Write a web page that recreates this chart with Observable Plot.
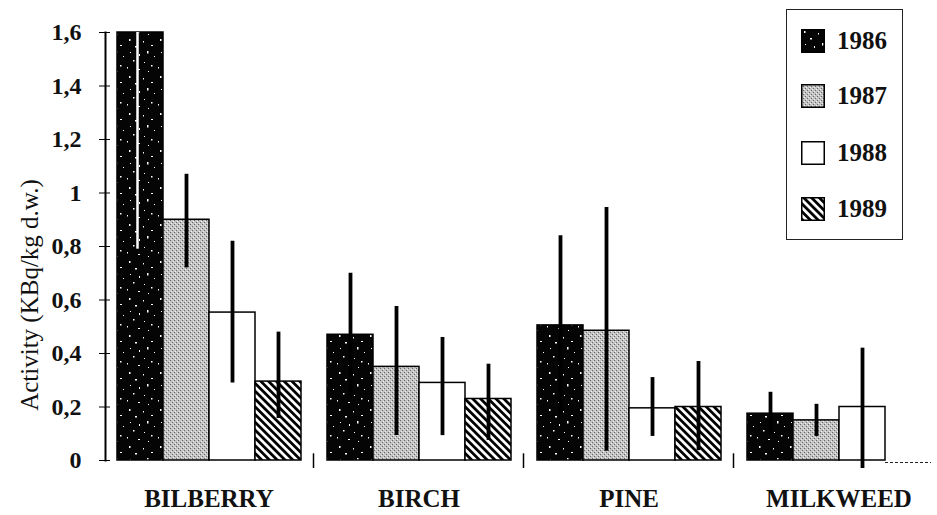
<!DOCTYPE html>
<html>
<head>
<meta charset="utf-8">
<script src="https://cdn.jsdelivr.net/npm/d3@7"></script>
<script src="https://cdn.jsdelivr.net/npm/@observablehq/plot@0.6"></script>
<style>
  html, body { margin: 0; padding: 0; background: #fff; overflow: hidden; }
  #wrap { position: relative; width: 937px; height: 515px; overflow: hidden; }
  #ytitle {
    position: absolute; left: 29px; top: 295px;
    transform: translate(-50%, -50%) rotate(-90deg);
    white-space: nowrap;
    font-family: "Liberation Serif", "DejaVu Serif", serif;
    font-size: 25px; color: #111; line-height: 1;
  }
  #legend {
    position: absolute; left: 786px; top: 9px; width: 117px; height: 231px;
    box-sizing: border-box; border: 1.2px solid #222; background: #fff;
  }
  .row { position: absolute; left: 14px; height: 24px; display: flex; align-items: center; }
  .row svg { display: block; }
  .row span {
    margin-left: 12px;
    font-family: "Liberation Serif", "DejaVu Serif", serif; font-weight: bold;
    font-size: 25px; color: #111; line-height: 24px;
  }
</style>
</head>
<body>
<svg width="0" height="0" style="position:absolute">
  <defs>
    <pattern id="p1986" patternUnits="userSpaceOnUse" width="31" height="37">
      <rect width="31" height="37" fill="#050505"/>
      <g fill="#fff">
        <rect x="3" y="2" width="1.5" height="2"/>
        <rect x="17" y="4" width="1" height="1.5"/>
        <rect x="25" y="8" width="2" height="1"/>
        <rect x="9" y="9" width="2" height="1.5"/>
        <rect x="21" y="14" width="1.5" height="2.5"/>
        <rect x="4" y="15" width="1" height="1"/>
        <rect x="13" y="17" width="1" height="2"/>
        <rect x="28" y="19" width="1" height="1"/>
        <rect x="7" y="23" width="1.5" height="1.5"/>
        <rect x="18" y="25" width="1" height="1"/>
        <rect x="25" y="28" width="1.5" height="1.5"/>
        <rect x="1" y="30" width="1" height="1.5"/>
        <rect x="12" y="32" width="2" height="1"/>
        <rect x="22" y="34" width="1" height="1"/>
      </g>
    </pattern>
    <pattern id="p1987" patternUnits="userSpaceOnUse" width="4" height="4">
      <rect width="4" height="4" fill="#c2c2c2"/>
      <rect x="0" y="0" width="1" height="1" fill="#666"/>
      <rect x="2" y="2" width="1" height="1" fill="#666"/>
      <rect x="1" y="3" width="1" height="1" fill="#f2f2f2"/>
      <rect x="3" y="1" width="1" height="1" fill="#f2f2f2"/>
    </pattern>
    <pattern id="p1988" patternUnits="userSpaceOnUse" width="4" height="4">
      <rect width="4" height="4" fill="#ffffff"/>
    </pattern>
    <pattern id="p1989" patternUnits="userSpaceOnUse" width="5.5" height="10" patternTransform="rotate(-45)">
      <rect width="5.5" height="10" fill="#ffffff"/>
      <rect x="0" y="0" width="2.8" height="10" fill="#000"/>
    </pattern>
  </defs>
</svg>
<div id="wrap">
  <div id="ytitle">Activity (KBq/kg d.w.)</div>
  <div id="legend"></div>
</div>
<script>
// ---- data ----
const categories = ["BILBERRY", "BIRCH", "PINE", "MILKWEED"];
const years = ["1986", "1987", "1988", "1989"];
const yTicks = [0, 0.2, 0.4, 0.6, 0.8, 1, 1.2, 1.4, 1.6];

const activity = {
  BILBERRY: [1.6, 0.9, 0.553, 0.295],
  BIRCH:    [0.47, 0.35, 0.29, 0.23],
  PINE:     [0.505, 0.485, 0.195, 0.2],
  MILKWEED: [0.175, 0.15, 0.2, null]
};
const errLow = {
  BILBERRY: [0.79, 0.72, 0.29, 0.157],
  BIRCH:    [0.24, 0.093, 0.093, 0.075],
  PINE:     [0.17, 0.035, 0.09, 0.037],
  MILKWEED: [0.095, 0.09, -0.03, null]
};
const errHigh = {
  BILBERRY: [1.6, 1.07, 0.82, 0.48],
  BIRCH:    [0.70, 0.576, 0.46, 0.36],
  PINE:     [0.84, 0.946, 0.31, 0.37],
  MILKWEED: [0.255, 0.21, 0.42, null]
};

// ---- build table ----
const yMax = 1.6;
const rows = [];
for (const cat of categories) {
  years.forEach((yr, i) => {
    rows.push({cat, year: yr, value: activity[cat][i], lo: errLow[cat][i], hi: errHigh[cat][i]});
  });
}
const present = rows.filter(d => d.value != null);
const missing = rows.filter(d => d.value == null);
const separators = categories.slice(0, -1).map(c => ({cat: c, year: years[years.length - 1]}));
const patterns = years.map(y => `url(#p${y})`);
const fmt = d => String(d).replace(".", ",");

const serif = '"Liberation Serif", "DejaVu Serif", serif';

const chart = Plot.plot({
  width: 937,
  height: 515,
  marginLeft: 103,
  marginRight: -7,
  marginTop: 32,
  marginBottom: 55,
  style: {background: "transparent", overflow: "visible"},
  fx: {domain: categories, paddingInner: 0.0142, paddingOuter: 0, label: null, axis: null},
  x: {domain: years, paddingInner: 0, paddingOuter: 0.213, axis: null},
  y: {domain: [0, yMax], axis: null},
  color: {domain: years, range: patterns},
  marks: [
    Plot.barY(present, {fx: "cat", x: "year", y: "value", fill: "year", stroke: "#000", strokeWidth: 1.5}),
    Plot.ruleX(present, {fx: "cat", x: "year", y1: "lo", y2: "hi", filter: d => d.hi < yMax, stroke: "#000", strokeWidth: 3.8}),
    Plot.ruleX(present, {fx: "cat", x: "year", y1: "lo", y2: "hi", filter: d => d.hi >= yMax, dx: -3, stroke: "#fff", strokeWidth: 2.5}),
    Plot.tickY(missing, {fx: "cat", x: "year", y: () => 0, dy: 2, stroke: "#222", strokeWidth: 1, strokeDasharray: "3,2"}),
    Plot.ruleX(separators, {fx: "cat", x: "year", y1: () => -0.03, y2: () => 0.025, dx: 35, stroke: "#000", strokeWidth: 1.5}),
    Plot.frame({anchor: "left", facetAnchor: "left", stroke: "#000", strokeWidth: 2}),
    Plot.axisY({
      anchor: "left", ticks: yTicks, tickFormat: fmt, tickSize: 11, dx: 5, tickPadding: 18,
      fontSize: 24, fontWeight: "bold", fontFamily: serif, fill: "#111", label: null
    }),
    Plot.axisFx({
      anchor: "bottom", tickSize: 0, tickPadding: 29, label: null,
      fontSize: 25, fontWeight: "bold", fontFamily: serif, fill: "#111"
    })
  ]
});
chart.style.position = "absolute";
chart.style.left = "0px";
chart.style.top = "0px";
document.getElementById("wrap").prepend(chart);

// ---- legend ----
const legend = document.getElementById("legend");
const rowTops = [19, 74, 131, 187];
years.forEach((y, i) => {
  const r = document.createElement("div");
  r.className = "row";
  r.style.top = rowTops[i] + "px";
  r.innerHTML = `<svg width="24" height="24"><rect x="0.75" y="0.75" width="22.5" height="22.5" fill="${patterns[i]}" stroke="#000" stroke-width="1.5"/></svg><span>${y}</span>`;
  legend.appendChild(r);
});
</script>
</body>
</html>
